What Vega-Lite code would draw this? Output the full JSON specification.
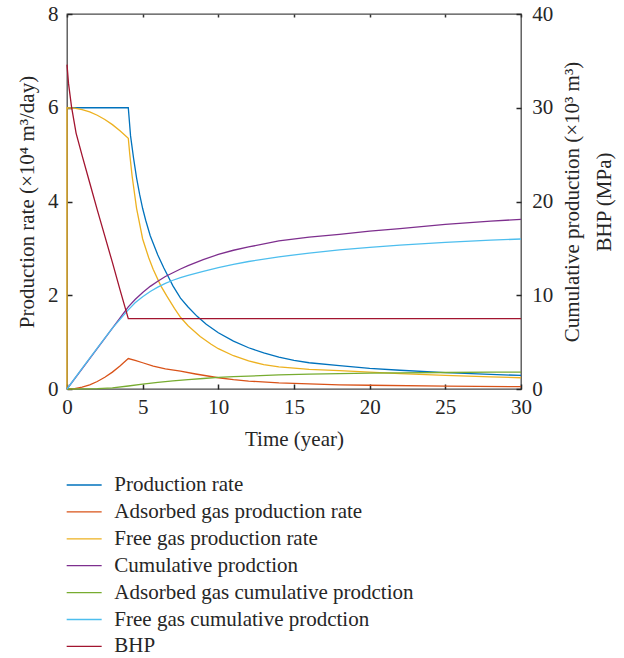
{
 "$schema": "https://vega.github.io/schema/vega-lite/v6.json",
 "width": 454, "height": 375,
 "autosize": {"type": "none"},
 "padding": {"left": 67, "top": 14, "right": 103, "bottom": 269},
 "background": "white",
 "config": {
  "font": "Liberation Serif",
  "view": {"stroke": "#4a4a4a", "strokeWidth": 1.3},
  "axis": {"labelFont": "Liberation Serif", "titleFont": "Liberation Serif", "labelFontSize": 21, "titleFontSize": 21, "titleFontWeight": "normal", "labelColor": "#262626", "titleColor": "#262626", "grid": false, "domain": false}
 },
 "data": {"values": [
  {"s":"Production rate","t":0,"v":6},{"s":"Production rate","t":4.05,"v":6},{"s":"Production rate","t":4.2,"v":5.4},{"s":"Production rate","t":4.4,"v":4.92},{"s":"Production rate","t":4.6,"v":4.5},{"s":"Production rate","t":4.8,"v":4.15},{"s":"Production rate","t":5,"v":3.85},{"s":"Production rate","t":5.2,"v":3.6},{"s":"Production rate","t":5.5,"v":3.27},{"s":"Production rate","t":6,"v":2.86},{"s":"Production rate","t":6.4,"v":2.58},{"s":"Production rate","t":7,"v":2.2},{"s":"Production rate","t":7.5,"v":1.94},{"s":"Production rate","t":8,"v":1.75},{"s":"Production rate","t":8.6,"v":1.55},{"s":"Production rate","t":9.2,"v":1.38},{"s":"Production rate","t":10,"v":1.2},{"s":"Production rate","t":11,"v":1.02},{"s":"Production rate","t":12,"v":0.88},{"s":"Production rate","t":13,"v":0.77},{"s":"Production rate","t":14,"v":0.68},{"s":"Production rate","t":15,"v":0.61},{"s":"Production rate","t":16,"v":0.56},{"s":"Production rate","t":18,"v":0.5},{"s":"Production rate","t":20,"v":0.44},{"s":"Production rate","t":22,"v":0.4},{"s":"Production rate","t":25,"v":0.35},{"s":"Production rate","t":28,"v":0.31},{"s":"Production rate","t":30,"v":0.29},
  {"s":"Adsorbed gas production rate","t":0,"v":0},{"s":"Adsorbed gas production rate","t":0.5,"v":0.01},{"s":"Adsorbed gas production rate","t":1,"v":0.04},{"s":"Adsorbed gas production rate","t":1.5,"v":0.09},{"s":"Adsorbed gas production rate","t":2,"v":0.16},{"s":"Adsorbed gas production rate","t":2.5,"v":0.25},{"s":"Adsorbed gas production rate","t":3,"v":0.36},{"s":"Adsorbed gas production rate","t":3.5,"v":0.49},{"s":"Adsorbed gas production rate","t":4.05,"v":0.65},{"s":"Adsorbed gas production rate","t":4.5,"v":0.61},{"s":"Adsorbed gas production rate","t":5,"v":0.56},{"s":"Adsorbed gas production rate","t":5.7,"v":0.49},{"s":"Adsorbed gas production rate","t":6.5,"v":0.43},{"s":"Adsorbed gas production rate","t":7.5,"v":0.38},{"s":"Adsorbed gas production rate","t":8.5,"v":0.32},{"s":"Adsorbed gas production rate","t":10,"v":0.24},{"s":"Adsorbed gas production rate","t":11,"v":0.2},{"s":"Adsorbed gas production rate","t":12,"v":0.17},{"s":"Adsorbed gas production rate","t":14,"v":0.13},{"s":"Adsorbed gas production rate","t":16,"v":0.11},{"s":"Adsorbed gas production rate","t":18,"v":0.09},{"s":"Adsorbed gas production rate","t":20,"v":0.08},{"s":"Adsorbed gas production rate","t":25,"v":0.06},{"s":"Adsorbed gas production rate","t":30,"v":0.05},
  {"s":"Free gas production rate","t":0,"v":0},{"s":"Free gas production rate","t":0,"v":6},{"s":"Free gas production rate","t":0.5,"v":5.99},{"s":"Free gas production rate","t":1,"v":5.96},{"s":"Free gas production rate","t":1.5,"v":5.91},{"s":"Free gas production rate","t":2,"v":5.84},{"s":"Free gas production rate","t":2.5,"v":5.75},{"s":"Free gas production rate","t":3,"v":5.64},{"s":"Free gas production rate","t":3.5,"v":5.51},{"s":"Free gas production rate","t":4.05,"v":5.35},{"s":"Free gas production rate","t":4.15,"v":5.0},{"s":"Free gas production rate","t":4.3,"v":4.55},{"s":"Free gas production rate","t":4.6,"v":3.85},{"s":"Free gas production rate","t":5,"v":3.2},{"s":"Free gas production rate","t":5.4,"v":2.8},{"s":"Free gas production rate","t":5.7,"v":2.55},{"s":"Free gas production rate","t":6.2,"v":2.2},{"s":"Free gas production rate","t":6.6,"v":1.98},{"s":"Free gas production rate","t":7.1,"v":1.72},{"s":"Free gas production rate","t":7.5,"v":1.53},{"s":"Free gas production rate","t":8,"v":1.35},{"s":"Free gas production rate","t":8.8,"v":1.12},{"s":"Free gas production rate","t":9.5,"v":0.96},{"s":"Free gas production rate","t":10,"v":0.86},{"s":"Free gas production rate","t":11,"v":0.71},{"s":"Free gas production rate","t":12,"v":0.6},{"s":"Free gas production rate","t":13,"v":0.52},{"s":"Free gas production rate","t":14,"v":0.47},{"s":"Free gas production rate","t":16,"v":0.42},{"s":"Free gas production rate","t":18,"v":0.39},{"s":"Free gas production rate","t":20,"v":0.36},{"s":"Free gas production rate","t":22,"v":0.33},{"s":"Free gas production rate","t":25,"v":0.29},{"s":"Free gas production rate","t":28,"v":0.26},{"s":"Free gas production rate","t":30,"v":0.24},
  {"s":"Cumulative prodction","t":0,"v":0},{"s":"Cumulative prodction","t":4.05,"v":8.76},{"s":"Cumulative prodction","t":4.5,"v":9.55},{"s":"Cumulative prodction","t":5,"v":10.3},{"s":"Cumulative prodction","t":5.5,"v":10.95},{"s":"Cumulative prodction","t":6,"v":11.5},{"s":"Cumulative prodction","t":6.5,"v":12.0},{"s":"Cumulative prodction","t":7,"v":12.4},{"s":"Cumulative prodction","t":7.5,"v":12.8},{"s":"Cumulative prodction","t":8,"v":13.15},{"s":"Cumulative prodction","t":9,"v":13.8},{"s":"Cumulative prodction","t":10,"v":14.35},{"s":"Cumulative prodction","t":11,"v":14.8},{"s":"Cumulative prodction","t":12,"v":15.15},{"s":"Cumulative prodction","t":14,"v":15.8},{"s":"Cumulative prodction","t":16,"v":16.2},{"s":"Cumulative prodction","t":18,"v":16.5},{"s":"Cumulative prodction","t":20,"v":16.85},{"s":"Cumulative prodction","t":22,"v":17.1},{"s":"Cumulative prodction","t":25,"v":17.55},{"s":"Cumulative prodction","t":28,"v":17.9},{"s":"Cumulative prodction","t":30,"v":18.1},
  {"s":"Adsorbed gas cumulative prodction","t":0,"v":0},{"s":"Adsorbed gas cumulative prodction","t":1,"v":0.005},{"s":"Adsorbed gas cumulative prodction","t":2,"v":0.04},{"s":"Adsorbed gas cumulative prodction","t":3,"v":0.13},{"s":"Adsorbed gas cumulative prodction","t":4.05,"v":0.32},{"s":"Adsorbed gas cumulative prodction","t":5,"v":0.52},{"s":"Adsorbed gas cumulative prodction","t":6,"v":0.7},{"s":"Adsorbed gas cumulative prodction","t":7,"v":0.86},{"s":"Adsorbed gas cumulative prodction","t":8,"v":1.0},{"s":"Adsorbed gas cumulative prodction","t":9,"v":1.12},{"s":"Adsorbed gas cumulative prodction","t":10,"v":1.23},{"s":"Adsorbed gas cumulative prodction","t":11,"v":1.31},{"s":"Adsorbed gas cumulative prodction","t":12,"v":1.38},{"s":"Adsorbed gas cumulative prodction","t":14,"v":1.5},{"s":"Adsorbed gas cumulative prodction","t":16,"v":1.58},{"s":"Adsorbed gas cumulative prodction","t":18,"v":1.65},{"s":"Adsorbed gas cumulative prodction","t":20,"v":1.7},{"s":"Adsorbed gas cumulative prodction","t":22,"v":1.73},{"s":"Adsorbed gas cumulative prodction","t":25,"v":1.76},{"s":"Adsorbed gas cumulative prodction","t":28,"v":1.79},{"s":"Adsorbed gas cumulative prodction","t":30,"v":1.8},
  {"s":"Free gas cumulative prodction","t":0,"v":0},{"s":"Free gas cumulative prodction","t":1,"v":2.19},{"s":"Free gas cumulative prodction","t":2,"v":4.37},{"s":"Free gas cumulative prodction","t":3,"v":6.5},{"s":"Free gas cumulative prodction","t":4.05,"v":8.44},{"s":"Free gas cumulative prodction","t":4.5,"v":9.2},{"s":"Free gas cumulative prodction","t":5,"v":9.85},{"s":"Free gas cumulative prodction","t":5.5,"v":10.4},{"s":"Free gas cumulative prodction","t":6,"v":10.87},{"s":"Free gas cumulative prodction","t":6.5,"v":11.27},{"s":"Free gas cumulative prodction","t":7,"v":11.6},{"s":"Free gas cumulative prodction","t":7.5,"v":11.88},{"s":"Free gas cumulative prodction","t":8,"v":12.12},{"s":"Free gas cumulative prodction","t":9,"v":12.55},{"s":"Free gas cumulative prodction","t":10,"v":12.95},{"s":"Free gas cumulative prodction","t":11,"v":13.3},{"s":"Free gas cumulative prodction","t":12,"v":13.6},{"s":"Free gas cumulative prodction","t":14,"v":14.1},{"s":"Free gas cumulative prodction","t":16,"v":14.5},{"s":"Free gas cumulative prodction","t":18,"v":14.85},{"s":"Free gas cumulative prodction","t":20,"v":15.1},{"s":"Free gas cumulative prodction","t":22,"v":15.35},{"s":"Free gas cumulative prodction","t":25,"v":15.65},{"s":"Free gas cumulative prodction","t":28,"v":15.88},{"s":"Free gas cumulative prodction","t":30,"v":16.0},
  {"s":"BHP","t":0,"v":34.6},{"s":"BHP","t":0.1,"v":32.6},{"s":"BHP","t":0.3,"v":30.1},{"s":"BHP","t":0.6,"v":27.3},{"s":"BHP","t":1,"v":24.9},{"s":"BHP","t":1.5,"v":22.0},{"s":"BHP","t":2,"v":19.1},{"s":"BHP","t":2.5,"v":16.3},{"s":"BHP","t":3,"v":13.5},{"s":"BHP","t":3.5,"v":10.6},{"s":"BHP","t":4.05,"v":7.5},{"s":"BHP","t":30,"v":7.5}
 ]},
 "layer": [
  {
   "transform": [{"filter": {"field": "s", "oneOf": ["Production rate", "Adsorbed gas production rate", "Free gas production rate"]}}],
   "mark": {"type": "line", "strokeWidth": 1.3},
   "encoding": {
    "x": {"field": "t", "type": "quantitative", "scale": {"domain": [0, 30], "nice": false},
     "axis": {"orient": "bottom", "values": [0, 5, 10, 15, 20, 25, 30], "ticks": true, "tickSize": 5, "tickWidth": 1.5, "tickColor": "#262626", "offset": -5, "title": "Time (year)", "labelPadding": 24.5, "labelBaseline": "alphabetic", "titleX": 227, "titleY": 61, "titleBaseline": "alphabetic", "titleAlign": "center", "labelFlush": false}},
    "y": {"field": "v", "type": "quantitative", "scale": {"domain": [0, 8], "nice": false},
     "axis": {"orient": "left", "values": [0, 2, 4, 6, 8], "ticks": true, "tickSize": 5, "tickWidth": 1.5, "tickColor": "#262626", "offset": -5, "title": "Production rate (×10⁴ m³/day)", "labelPadding": 9, "titleAngle": 270, "titleX": -39, "titleY": 187.5, "titleBaseline": "alphabetic", "titleAlign": "center", "labelFlush": false}},
    "color": {"field": "s", "type": "nominal",
     "scale": {"domain": ["Production rate", "Adsorbed gas production rate", "Free gas production rate", "Cumulative prodction", "Adsorbed gas cumulative prodction", "Free gas cumulative prodction", "BHP"],
               "range": ["#0072BD", "#D95319", "#EDB120", "#7E2F8E", "#77AC30", "#4DBEEE", "#A2142F"]},
     "legend": {"orient": "none", "legendX": 6.67, "legendY": 460.5, "title": null, "direction": "vertical", "symbolType": "M-3,0H3", "symbolSize": 136, "symbolStrokeWidth": 1.3, "labelFont": "Liberation Serif", "labelFontSize": 21, "labelColor": "#262626", "labelOffset": 19.67, "rowPadding": 4.9, "padding": 0, "labelLimit": 500}}
   }
  },
  {
   "transform": [{"filter": {"field": "s", "oneOf": ["Cumulative prodction", "Adsorbed gas cumulative prodction", "Free gas cumulative prodction", "BHP"]}}],
   "mark": {"type": "line", "strokeWidth": 1.3},
   "encoding": {
    "x": {"field": "t", "type": "quantitative", "scale": {"domain": [0, 30], "nice": false},
     "axis": {"orient": "top", "values": [0, 5, 10, 15, 20, 25, 30], "labels": false, "title": null, "ticks": true, "tickSize": 3, "tickWidth": 1.5, "offset": -3, "tickColor": "#333333"}},
    "y": {"field": "v", "type": "quantitative", "scale": {"domain": [0, 40], "nice": false},
     "axis": {"orient": "right", "values": [0, 10, 20, 30, 40], "ticks": true, "tickSize": 5, "tickWidth": 1.5, "tickColor": "#262626", "offset": -5, "title": ["Cumulative production (×10³ m³)", "BHP (MPa)"], "labelPadding": 10.7, "titleAngle": 270, "titleX": 62, "titleY": 187.5, "titleBaseline": "alphabetic", "titleAlign": "center", "titleLineHeight": 32, "labelFlush": false}},
    "color": {"field": "s", "type": "nominal"}
   }
  }
 ],
 "resolve": {"scale": {"y": "independent"}, "axis": {"x": "independent", "y": "independent"}}
}
